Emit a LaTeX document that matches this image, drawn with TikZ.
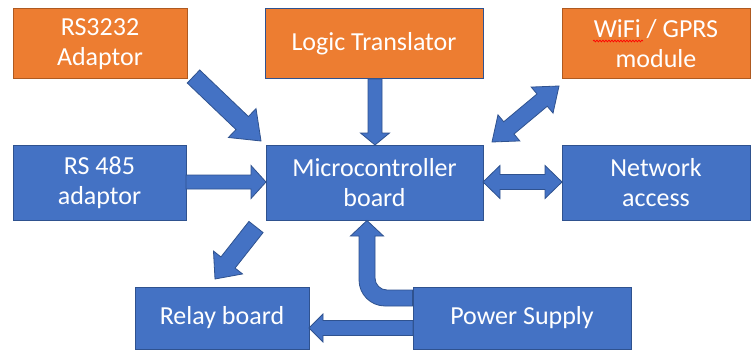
\documentclass[tikz,border=0pt]{standalone}
\usepackage{fontspec}
\setmainfont{Carlito}
\usetikzlibrary{calc,decorations.pathmorphing}
\definecolor{orfill}{HTML}{ED7D31}
\definecolor{orline}{HTML}{AE5A21}
\definecolor{blfill}{HTML}{4472C4}
\definecolor{blline}{HTML}{2F528F}
\tikzset{
  box/.style={rectangle, inner sep=0pt, align=center, text=white,
    font=\fontsize{26}{30}\selectfont, line width=1pt},
  orbox/.style={box, fill=orfill, draw=orline},
  blbox/.style={box, fill=blfill, draw=blline},
  barrow/.style={fill=blfill, draw=blline, line width=0.8pt, line join=miter},
}
\newcommand\blockarrow[5]{%
  \coordinate (bah) at ($(#2)!#5!(#1)$);
  \filldraw[barrow] ($(#1)!#3!90:(#2)$) -- ($(bah)!#3!90:(#2)$) -- ($(bah)!#4!90:(#2)$) -- (#2)
    -- ($(bah)!#4!-90:(#2)$) -- ($(bah)!#3!-90:(#2)$) -- ($(#1)!#3!-90:(#2)$) -- cycle;}
\newcommand\dblarrow[5]{%
  \coordinate (dha) at ($(#1)!#5!(#2)$);
  \coordinate (dhb) at ($(#2)!#5!(#1)$);
  \filldraw[barrow] (#1) -- ($(dha)!#4!90:(#2)$) -- ($(dha)!#3!90:(#2)$) -- ($(dhb)!#3!90:(#2)$)
    -- ($(dhb)!#4!90:(#2)$) -- (#2) -- ($(dhb)!#4!-90:(#2)$) -- ($(dhb)!#3!-90:(#2)$)
    -- ($(dha)!#3!-90:(#2)$) -- ($(dha)!#4!-90:(#2)$) -- cycle;}
\begin{document}
\begin{tikzpicture}[x=1pt,y=-1pt]
\fill[white] (0,0) rectangle (751,350);
\useasboundingbox (0,0) rectangle (751,350);
% boxes
\node[orbox, minimum width=174pt, minimum height=70pt] (rs3232) at (100,44) {RS3232\\Adaptor};
\node[box, fill=orfill, draw=blline, minimum width=218pt, minimum height=70pt] (logic) at (374,44) {Logic Translator};
\node[orbox, minimum width=188pt, minimum height=70pt] (wifi) at (656,44) {WiFi / GPRS\\module};
\node[blbox, minimum width=173pt, minimum height=75pt] (rs485) at (99.5,182.5) {RS 485\\adaptor};
\node[blbox, minimum width=217pt, minimum height=75pt] (micro) at (374.5,182.5) {Microcontroller\\board};
\node[blbox, minimum width=188pt, minimum height=75pt] (net) at (656,182.5) {Network\\access};
\node[blbox, minimum width=174pt, minimum height=62pt] (relay) at (222,318) {Relay board};
\node[blbox, minimum width=218pt, minimum height=62pt] (power) at (522,318) {Power Supply};
% spell-check squiggle
\draw[red, line width=0.7pt, decorate, decoration={snake, amplitude=0.9pt, segment length=3pt}]
  ($(wifi.center)+(-63,-3)$) coordinate (sq1) -- ($(wifi.center)+(-13,-3)$) coordinate (sq2);
% arrow end points
\coordinate (a1s) at (193.5,76.5);  \coordinate (a1e) at (261,141);
\coordinate (a2s) at (375,79);      \coordinate (a2e) at (375,145);
\coordinate (a3s) at (492,142);     \coordinate (a3e) at (559,86);
\coordinate (a4s) at (186,182);     \coordinate (a4e) at (266,182);
\coordinate (a5s) at (483,182);     \coordinate (a5e) at (562,182);
\coordinate (a6s) at (256,227);     \coordinate (a6e) at (215,279);
\coordinate (a8s) at (413,328);     \coordinate (a8e) at (309,328);
% arrows
\blockarrow{a1s}{a1e}{9pt}{20pt}{26pt}
\blockarrow{a2s}{a2e}{7pt}{14.5pt}{12pt}
\dblarrow{a3s}{a3e}{8pt}{17pt}{22pt}
\blockarrow{a4s}{a4e}{7pt}{16.5pt}{15pt}
\dblarrow{a5s}{a5e}{7.5pt}{16.5pt}{17pt}
\blockarrow{a6s}{a6e}{9pt}{18.5pt}{21pt}
\blockarrow{a8s}{a8e}{7.5pt}{14pt}{14pt}
% bent arrow power -> micro
\filldraw[barrow] ($(power.west)+(0,-28)$) [rounded corners=12pt] -- (375,290) [sharp corners]
  -- (375,236) -- (383.5,236) -- (367,220.5) -- (350.5,236) -- (359,236)
  [rounded corners=26pt] -- (359,306) [sharp corners] -- ($(power.west)+(0,-12)$) -- cycle;
\end{tikzpicture}
\end{document}
